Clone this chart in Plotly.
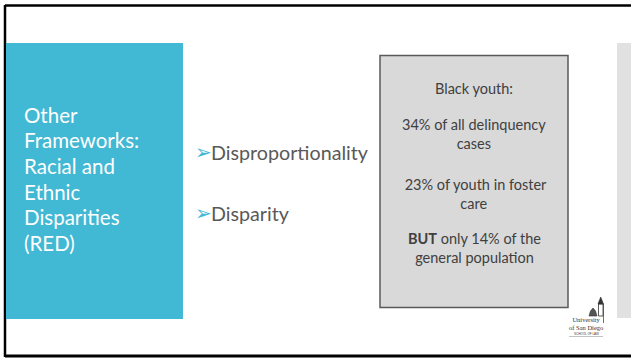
import plotly.graph_objects as go

W, H = 631, 358

# Text content
title_lines = ["Other", "Frameworks:", "Racial and", "Ethnic", "Disparities", "(RED)"]
title_y = [114.5, 140, 166, 192, 217, 243]

bullet_items = ["Disproportionality", "Disparity"]
bullet_y = [152, 213]

box_paragraphs = ["Black youth:", "34% of all delinquency<br>cases", " 23% of youth in foster<br>care",
                  "<b>BUT</b> only 14% of the<br>general population"]
box_y = [88, 134, 194, 247.5]

logo_text = "University<br>of San Diego"
logo_sub = "SCHOOL OF LAW"

BLUE = "#41b8d4"

fig = go.Figure()

shapes = [
    # slide frame
    dict(type="line", x0=5, x1=631, y0=5.5, y1=5.5, line=dict(color="black", width=2.5)),
    dict(type="line", x0=5, x1=631, y0=356, y1=356, line=dict(color="black", width=3)),
    dict(type="line", x0=5, x1=5, y0=5, y1=357, line=dict(color="black", width=2.5)),
    # blue title panel
    dict(type="rect", x0=6, x1=183, y0=43, y1=319, fillcolor=BLUE, line=dict(width=0), layer="above"),
    # right light panel
    dict(type="rect", x0=617, x1=632, y0=43, y1=318, fillcolor="#e1e1e1", line=dict(width=0)),
    # gray info box
    dict(type="rect", x0=380, x1=568, y0=55.5, y1=307.5, fillcolor="#d9d9d9",
         line=dict(color="#5a5a5a", width=1.5)),
    # logo tower
    dict(type="rect", x0=598.5, x1=603, y0=304, y1=316, fillcolor="white", line=dict(color="#333", width=0.8)),
    dict(type="path", path="M 598 304 L 600.7 297 L 603.5 304 Z", fillcolor="#333", line=dict(color="#333", width=0.6)),
    dict(type="path", path="M 589 316 L 590.5 311 L 593 308 L 595.5 311 L 597 316 Z", fillcolor="#555",
         line=dict(color="#333", width=0.6)),
    dict(type="line", x0=603.5, x1=603.5, y0=304, y1=323, line=dict(color="#333", width=0.7)),
    dict(type="line", x0=569, x1=603, y0=336.5, y1=336.5, line=dict(color="#999", width=0.6)),
]

annotations = []
for t, y in zip(title_lines, title_y):
    annotations.append(dict(x=22, y=y, text=t, xanchor="left", yanchor="middle", showarrow=False,
                            font=dict(family="Lato", size=20.5, color="white")))
for t, y in zip(bullet_items, bullet_y):
    annotations.append(dict(x=193, y=y, text="➢", xanchor="left", yanchor="middle", showarrow=False,
                            font=dict(family="DejaVu Sans", size=20, color=BLUE)))
    annotations.append(dict(x=209, y=y, text=t, xanchor="left", yanchor="middle", showarrow=False,
                            font=dict(family="Lato", size=19.7, color="#595959")))
for t, y in zip(box_paragraphs, box_y):
    annotations.append(dict(x=474, y=y, text=t, xanchor="center", yanchor="middle", showarrow=False,
                            align="center", font=dict(family="Lato", size=14.5, color="#404040")))
annotations.append(dict(x=586, y=323, text=logo_text, xanchor="center", yanchor="middle", showarrow=False,
                        align="center", font=dict(family="Liberation Serif", size=6.5, color="#333")))
annotations.append(dict(x=586, y=333.5, text=logo_sub, xanchor="center", yanchor="middle", showarrow=False,
                        font=dict(family="Liberation Sans", size=3, color="#333")))

fig.update_layout(
    width=W, height=H, margin=dict(l=0, r=0, t=0, b=0),
    paper_bgcolor="white", plot_bgcolor="white",
    xaxis=dict(range=[0, W], visible=False, fixedrange=True),
    yaxis=dict(range=[H, 0], visible=False, fixedrange=True),
    shapes=shapes, annotations=annotations, showlegend=False,
)

fig.write_html("out.html", config={"displayModeBar": False},
               post_script="document.body.style.margin='0';document.body.style.overflow='hidden';")
